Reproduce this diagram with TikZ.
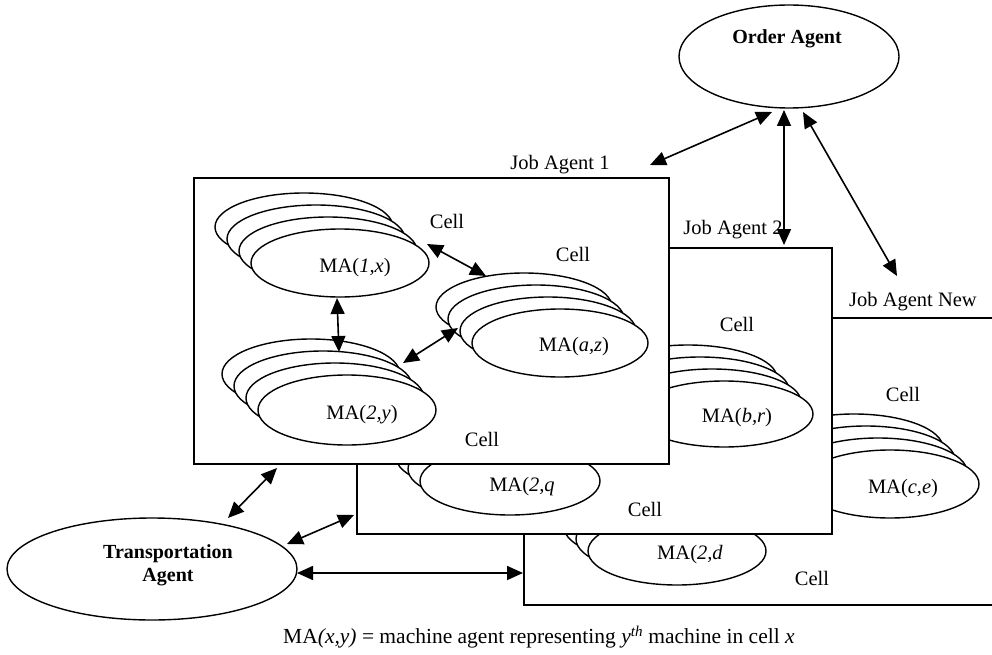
\documentclass[tikz,border=0pt]{standalone}
\usepackage{fontspec}
\setmainfont{Liberation Serif}
\usetikzlibrary{arrows.meta,shapes.geometric}
\newcommand\mastack[4]{%
  \foreach \k in {3,2,1,0}{%
    \draw[ell] ({#1-12*\k},{#2-12*\k}) ellipse [x radius=#3pt, y radius=#4pt];}}
\begin{document}
\begin{tikzpicture}[x=1pt,y=-1pt,
  box/.style={draw, fill=white, line width=1.6pt},
  ell/.style={draw, fill=white, line width=1.4pt},
  lbl/.style={font=\fontsize{20.5}{24}\selectfont, inner sep=0pt},
  blbl/.style={font=\fontsize{20}{23}\selectfont\bfseries, inner sep=0pt, align=center},
  link/.style={{Triangle[length=16pt,width=14pt]}-{Triangle[length=16pt,width=14pt]}, line width=1.6pt},
]
\clip (0,0) rectangle (992,655);
\fill[white] (0,0) rectangle (992,655);

% ---------- Job Agent New (box 3) ----------
\path[box] (524,318) rectangle (1010,605);
\node[lbl] (ja3) at (913,302) {Job Agent New};
\mastack{890}{484}{89}{34}
\node[lbl] (mace) at (903,489) {MA(\textit{c,e})};
\mastack{677}{551}{89}{34}
\node[lbl] (ma2d) at (690,555) {MA(\textit{2,d}};
\node[lbl] (cell3a) at (903,394) {Cell};
\node[lbl] (cell3b) at (812,578) {Cell};

% ---------- Job Agent 2 (box 2) ----------
\path[box] (357,248) rectangle (832,534);
\node[lbl] (ja2) at (733,230) {Job Agent 2};
\mastack{724}{414}{89}{33}
\node[lbl] (mabr) at (737,418) {MA(\textit{b,r})};
\mastack{510}{481}{90}{34}
\node[lbl] (ma2q) at (522,487) {MA(\textit{2,q}};
\node[lbl] (cell2a) at (737,324) {Cell};
\node[lbl] (cell2b) at (645,509) {Cell};

% ---------- Job Agent 1 (box 1) ----------
\path[box] (194,178) rectangle (669,464);
\node[lbl] (ja1) at (560,165) {Job Agent 1};
\mastack{340}{263}{89}{34}
\node[lbl] (ma1x) at (355,268) {MA(\textit{1,x})};
\mastack{347}{410}{89}{35}
\node[lbl] (ma2y) at (362,415) {MA(\textit{2,y})};
\mastack{560}{343}{88}{34}
\node[lbl] (maaz) at (574,347) {MA(\textit{a,z})};
\node[lbl] (cell1a) at (447,221) {Cell};
\node[lbl] (cell1b) at (573,254) {Cell};
\node[lbl] (cell1c) at (482,439) {Cell};

% ---------- agents ----------
\draw[ell] (789,56.5) ellipse [x radius=110pt, y radius=51.5pt];
\node[blbl] (order) at (787,39) {Order Agent};
\draw[ell] (152,569) ellipse [x radius=145pt, y radius=51pt];
\node[blbl] (trans) at (168,565) {Transportation\\Agent};

% ---------- connector end points ----------
\coordinate (o1) at (772,112);  \coordinate (j1) at (650,165);
\coordinate (o2) at (784,110);  \coordinate (j2) at (784,245);
\coordinate (o3) at (803,112);  \coordinate (j3) at (897,276);
\coordinate (s1a) at (427,244); \coordinate (saz1) at (486,276);
\coordinate (s2a) at (403,363); \coordinate (saz2) at (458,328);
\coordinate (s1b) at (337,298); \coordinate (s2b) at (339,352);
\coordinate (t1) at (228,518);  \coordinate (b1) at (277,468);
\coordinate (t2) at (287,544);  \coordinate (b2) at (354,515);
\coordinate (t3) at (297,573);  \coordinate (b3) at (523,573);

\draw[link] (o1) -- (j1);
\draw[link] (o2) -- (j2);
\draw[link] (o3) -- (j3);
\draw[link] (s1a) -- (saz1);
\draw[link] (s2a) -- (saz2);
\draw[link] (s1b) -- (s2b);
\draw[link] (t1) -- (b1);
\draw[link] (t2) -- (b2);
\draw[link] (t3) -- (b3);

% ---------- caption ----------
\node[lbl, anchor=west, font=\fontsize{21.5}{25}\selectfont] (cap) at (283,637)
  {MA\textit{(x,y)} = machine agent representing \textit{y}\textsuperscript{\textit{th}} machine in cell \textit{x}};
\end{tikzpicture}
\end{document}
